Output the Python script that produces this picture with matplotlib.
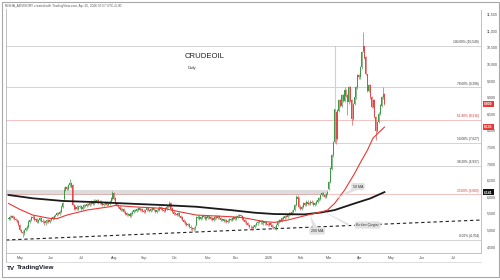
import matplotlib
matplotlib.use("Agg")
import matplotlib.pyplot as plt
import matplotlib.transforms as mtransforms
from matplotlib.patches import Polygon, Rectangle
from matplotlib.lines import Line2D
import numpy as np
import pandas as pd

plt.rcParams.update({"font.family": ["Liberation Sans", "DejaVu Sans"]})

UP_C = "#3f9a48"
DN_C = "#e04a4a"
MA50_C = "#e53935"
MA200_C = "#1a1a1a"
FIB_C = "#9a9a9a"
FIB_RED = "#e57373"
TXT_C = "#4a4a4a"

# ---------------------------------------------------------------------------
# daily closes (Rs), one list per month, first bar = 21 Apr 2025
# ---------------------------------------------------------------------------
apr25 = [5350, 5400, 5420, 5380, 5330, 5300, 5260, 5150]
may25 = [5000, 4950, 4900, 5000, 5050, 5100, 5250, 5300, 5380, 5400, 5300,
         5320, 5250, 5300, 5350, 5280, 5250, 5200, 5260, 5300, 5250, 5300]
jun25 = [5350, 5380, 5420, 5450, 5500, 5480, 5550, 5700, 5800, 6200, 6300,
         6250, 6350, 6400, 6300, 5750, 5650, 5700, 5650, 5700, 5720]
jul25 = [5650, 5700, 5750, 5720, 5780, 5750, 5800, 5850, 5800, 5880, 5850,
         5900, 5820, 5850, 5800, 5750, 5780, 5820, 5750, 5800, 5850, 5950, 6100]
aug25 = [5950, 5800, 5750, 5700, 5650, 5600, 5620, 5550, 5500, 5450, 5480,
         5420, 5500, 5550, 5600, 5580, 5620, 5650, 5600, 5620, 5580]
sep25 = [5550, 5600, 5650, 5600, 5580, 5620, 5650, 5600, 5550, 5600, 5620,
         5680, 5650, 5600, 5580, 5650, 5700, 5720, 5800, 5650, 5550, 5500]
oct25 = [5480, 5450, 5500, 5420, 5380, 5300, 5250, 5200, 5150, 5180, 5100,
         5050, 5020, 5050, 5100, 5380, 5400, 5350, 5380, 5420, 5400, 5350, 5380]
nov25 = [5420, 5380, 5350, 5300, 5350, 5400, 5380, 5420, 5360, 5300, 5330,
         5280, 5300, 5250, 5280, 5320, 5300, 5350, 5380, 5350]
dec25 = [5400, 5430, 5450, 5420, 5350, 5300, 5250, 5200, 5150, 5100, 5080,
         5050, 5100, 5150, 5200, 5250, 5270, 5230, 5250, 5200, 5230, 5180, 5150]
jan26 = [5200, 5150, 5100, 5080, 5050, 5150, 5250, 5300, 5280, 5350, 5380,
         5420, 5400, 5450, 5500, 5480, 5550, 5600, 5750, 6000, 5950, 5700]
feb26 = [5650, 5700, 5800, 5750, 5850, 5800, 5780, 5850, 5820, 5750, 5800,
         5850, 5900, 5950, 6050, 6100, 6050, 6000, 6080, 6150]
mar26 = [6450, 6850, 7250, 7650, 8650, 7750, 8600, 8900, 8750, 9050, 8900,
         9200, 9050, 8850, 9300, 8900, 8350, 8800, 9000, 9300, 9650, 9600]
apr26 = [9900, 10350, 10550, 10200, 9700, 9200, 9350, 9000, 8700, 8900, 8400,
         8000, 8250, 8500, 8750, 9000, 9100, 8800]

closes = apr25 + may25 + jun25 + jul25 + aug25 + sep25 + oct25 + nov25 + \
    dec25 + jan26 + feb26 + mar26 + apr26

# bar number -> price, for gaps and long wicks
gap_open = {39: 5950, 45: 6350, 132: 5150, 225: 6250, 229: 7650, 230: 8550,
            249: 10400}
high_wick = {39: 6300, 43: 6540, 73: 6180, 113: 5880, 202: 6060, 229: 10549,
             236: 9320, 249: 10970, 250: 10550, 252: 9700, 254: 9400, 263: 9300}
low_wick = {10: 4800, 129: 4970, 171: 5000, 187: 5030, 230: 7600, 238: 8460,
            241: 8160, 258: 7700}

# moving averages (bar number, price)
ma50_bar = [0, 8, 17, 29, 34, 41, 55, 71, 75, 87, 109, 120, 132, 156, 165,
            180, 187, 196, 210, 220, 224, 229, 236, 243, 248, 252, 256, 264]
ma50_val = [5800, 5620, 5450, 5350, 5340, 5450, 5600, 5700, 5740, 5700, 5650,
            5550, 5450, 5400, 5370, 5250, 5230, 5300, 5450, 5550, 5600, 5800,
            6200, 6700, 7100, 7400, 7770, 8100]
ma200_bar = [0, 17, 38, 64, 87, 109, 132, 156, 173, 187, 208, 220, 229, 243,
             254, 264]
ma200_val = [6055, 5955, 5875, 5835, 5790, 5750, 5700, 5600, 5520, 5480, 5470,
             5530, 5600, 5800, 5950, 6141]

# breakout trend line anchors (bar number, price)
trend_a = (10, 4720)
trend_b = (264, 5178)

fib_pct = ["100.00%", "78.60%", "61.80%", "50.00%", "38.20%", "23.60%", "0.00%"]
fib_val = [10549, 9298, 8316, 7627, 6937, 6083, 4704]
fib_red = [False, False, True, False, False, True, False]

month_labels = ["May", "Jun", "Jul", "Aug", "Sep", "Oct", "Nov", "Dec", "2026",
                "Feb", "Mar", "Apr", "May", "Jun", "Jul"]
price_ticks = list(range(4500, 11501, 500))

last_tags = [("8,800", 8800, "#e53935"), ("8,105", 8105, "#e53935"),
             ("6,141", 6141, "#111111")]

# ---------------------------------------------------------------------------
dates = pd.bdate_range("2025-04-21", "2026-07-31")
n = len(closes)
idx = np.arange(n)
c = np.array(closes, dtype=float)
o = np.r_[c[0], c[:-1]]
for k, v in gap_open.items():
    o[k] = v
hi = np.maximum(o, c) + 40
lo = np.minimum(o, c) - 40
for k, v in high_wick.items():
    hi[k] = v
for k, v in low_wick.items():
    lo[k] = v
up = c >= o

fig = plt.figure(figsize=(5, 2.8), dpi=100)
fig.patch.set_facecolor("white")
ax = fig.add_axes([6 / 500, 1 - 253 / 280, 475 / 500, 243 / 280])

# support zone
ax.add_patch(Rectangle((-2, 6060), 226, 130, facecolor="#dcdcdc",
                       edgecolor="none", zorder=0))

# fib levels
for p, v, r in zip(fib_pct, fib_val, fib_red):
    col = FIB_RED if r else FIB_C
    ax.axhline(v, color=col, lw=0.6, ls=(0, (1.2, 1.2)), zorder=1)
    ax.text(330.5, v + 45, f"{p} ({v:,})", ha="right", va="bottom",
            fontsize=2.3, color="#d32f2f" if r else "#333333", zorder=5)

# trend line
ax.axline(trend_a, trend_b, color="#222222", lw=0.8, ls=(0, (3, 2.5)),
          zorder=2)

# candles
wick_col = np.where(up, UP_C, DN_C)
ax.vlines(idx, lo, hi, colors=wick_col, lw=0.45, zorder=3)
ax.vlines([229], [8650], [10549], colors="#c9d6c9", lw=0.8, zorder=3)
ax.bar(idx, np.abs(c - o) + 8, bottom=np.minimum(o, c) - 4, width=0.7,
       color=wick_col, linewidth=0, zorder=4)

# moving averages
ax.plot(ma200_bar, ma200_val, color=MA200_C, lw=1.3, zorder=4)
ax.plot(ma50_bar, ma50_val, color=MA50_C, lw=0.8, zorder=4)

# callouts
call_kw = dict(fontsize=2.6, color="#333333", ha="center", va="center",
               zorder=7, bbox=dict(boxstyle="round,pad=0.45", fc="#e2e2e2",
                                   ec="none"))
ax.add_patch(Polygon([(241.5, 6250), (245.5, 6220), (228, 5900)],
                     closed=True, fc="#e2e2e2", ec="none", zorder=6))
ax.text(245.4, 6310, "50 MA", **call_kw)
ax.add_patch(Polygon([(214, 5000), (218, 5000), (211.7, 5452)],
                     closed=True, fc="#e2e2e2", ec="none", zorder=6))
ax.text(216.7, 4970, "200 MA", **call_kw)
ax.add_patch(Polygon([(239, 5190), (239, 5110), (220.8, 5572)],
                     closed=True, fc="#e2e2e2", ec="none", zorder=6))
ax.text(252.2, 5150, "Kırılım Çizgisi", **call_kw)

# titles
ax.text(138, 10220, "CRUDEOIL", fontsize=5.6, color="#222222",
        ha="center", va="center")
ax.text(126, 9870, "Daily", fontsize=2.8, color="#333333", ha="left",
        va="center")

# axes
x0 = (6 - 8.5) / 1.424
x1 = (481 - 8.5) / 1.424
ax.set_xlim(x0, x1)
ax.set_ylim(4307, 11627)
month_first = pd.Series(np.arange(len(dates)), index=dates)
month_first = month_first.groupby([dates.year, dates.month]).first().values[1:]
ax.set_xticks(month_first[:len(month_labels)])
ax.set_xticklabels(month_labels)
ax.set_yticks(price_ticks)
ax.set_yticklabels([f"{v:,}" for v in price_ticks])
ax.yaxis.tick_right()
ax.tick_params(axis="both", length=0, labelsize=2.6, colors=TXT_C)
ax.tick_params(axis="x", pad=2.2)
ax.tick_params(axis="y", pad=4)
for s in ["top", "left"]:
    ax.spines[s].set_visible(False)
for s in ["right", "bottom"]:
    ax.spines[s].set_color("#b8b8b8")
    ax.spines[s].set_linewidth(0.6)

# last value tags on price scale
tr = mtransforms.blended_transform_factory(ax.transAxes, ax.transData)
for txt, v, col in last_tags:
    ax.text(1.007, v, txt, transform=tr, fontsize=2.4, color="white",
            ha="left", va="center", fontweight="bold", zorder=8,
            bbox=dict(boxstyle="square,pad=0.35", fc=col, ec="none"),
            clip_on=False)

# frame, header and footer
fig.add_artist(Rectangle((1.5 / 500, 3 / 280), 497 / 500, 275.5 / 280,
                         transform=fig.transFigure, fill=False,
                         ec="#a8a8a8", lw=0.8))
fig.add_artist(Line2D([6 / 500, 6 / 500], [1 - 262 / 280, 1 - 9 / 280],
                      transform=fig.transFigure, color="#b8b8b8", lw=0.6))
fig.add_artist(Line2D([6 / 500, 481 / 500], [1 - 262 / 280, 1 - 262 / 280],
                      transform=fig.transFigure, color="#d0d0d0", lw=0.5))
fig.text(5 / 500, 1 - 6 / 280,
         "NISHA_ADVISORY created with TradingView.com, Apr 25, 2026 07:57 UTC+5:30",
         fontsize=2.3, color="#555555", ha="left", va="center")
fig.text(7 / 500, 1 - 268 / 280, "TV", fontsize=4.6, fontweight="heavy",
         color="#131722", ha="left", va="center")
fig.text(17 / 500, 1 - 268 / 280, "TradingView", fontsize=4.6,
         fontweight="bold", color="#131722", ha="left", va="center")

fig.savefig("out.png", dpi=100, facecolor="white")
